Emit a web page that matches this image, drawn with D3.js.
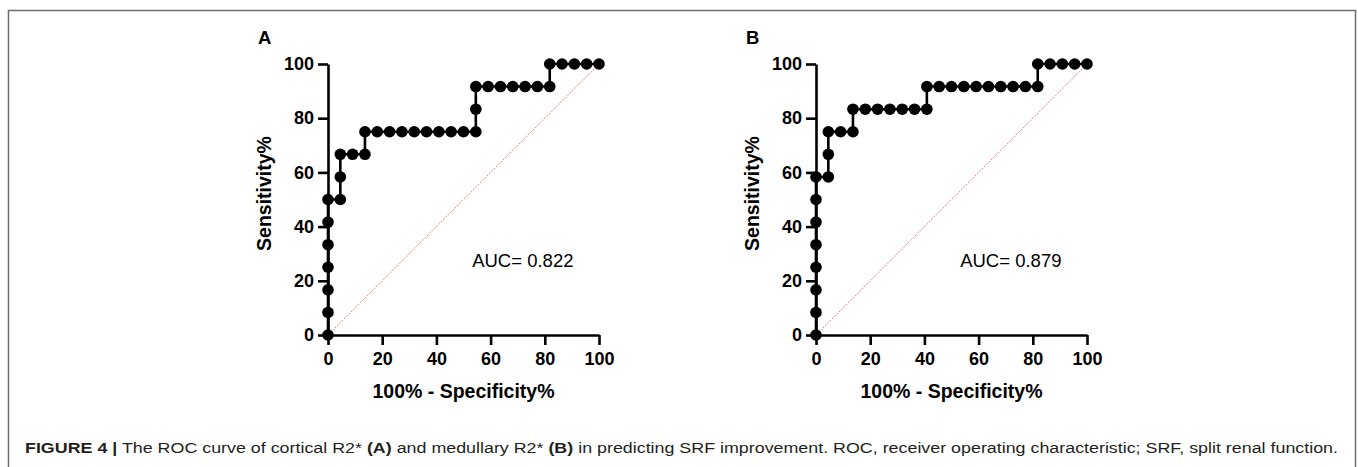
<!DOCTYPE html>
<html>
<head>
<meta charset="utf-8">
<script src="https://cdn.jsdelivr.net/npm/d3@7"></script>
<style>
  html, body { margin: 0; padding: 0; background: #fff; }
  svg { display: block; }
  text { font-family: Arial, "Liberation Sans", Helvetica, sans-serif; }
</style>
</head>
<body>
<svg id="chart" width="1358" height="467"></svg>
<script>
// ---- data ----
const tickValues = [0, 20, 40, 60, 80, 100];
const panelLabels = ["A", "B"];
const aucLabels = ["AUC= 0.822", "AUC= 0.879"];
const xAxisTitle = "100% - Specificity%";
const yAxisTitle = "Sensitivity%";

// Panel A: 100% - Specificity% and Sensitivity%
const fprA = [0,0,0,0,0,0,0,4.55,4.55,4.55,9.09,13.64,13.64,18.18,22.73,27.27,31.82,36.36,40.91,45.45,50,54.55,54.55,54.55,59.09,63.64,68.18,72.73,77.27,81.82,81.82,86.36,90.91,95.45,100];
const tprA = [0,8.33,16.67,25,33.33,41.67,50,50,58.33,66.67,66.67,66.67,75,75,75,75,75,75,75,75,75,75,83.33,91.67,91.67,91.67,91.67,91.67,91.67,91.67,100,100,100,100,100];

// Panel B
const fprB = [0,0,0,0,0,0,0,0,4.55,4.55,4.55,9.09,13.64,13.64,18.18,22.73,27.27,31.82,36.36,40.91,40.91,45.45,50,54.55,59.09,63.64,68.18,72.73,77.27,81.82,81.82,86.36,90.91,95.45,100];
const tprB = [0,8.33,16.67,25,33.33,41.67,50,58.33,58.33,66.67,75,75,75,83.33,83.33,83.33,83.33,83.33,83.33,83.33,91.67,91.67,91.67,91.67,91.67,91.67,91.67,91.67,91.67,91.67,100,100,100,100,100];

const diagonal = [0, 100];

const captionParts = [
  ["FIGURE 4 |", true],
  [" The ROC curve of cortical R2* ", false],
  ["(A)", true],
  [" and medullary R2* ", false],
  ["(B)", true],
  [" in predicting SRF improvement. ROC, receiver operating characteristic; SRF, split renal function.", false]
];

// ---- drawing ----
const svg = d3.select("#chart");

// frame
svg.append("path")
  .attr("d", "M8.5,467 L8.5,10.5 L1355.5,10.5 L1355.5,467")
  .attr("fill", "none")
  .attr("stroke", "#6b6b6b")
  .attr("stroke-width", 1.5);

const panels = [
  { fpr: fprA, tpr: tprA, x0: 328, label: panelLabels[0], auc: aucLabels[0] },
  { fpr: fprB, tpr: tprB, x0: 816, label: panelLabels[1], auc: aucLabels[1] }
];

const plotW = 271, yTop = 64, yBot = 335;

panels.forEach(p => {
  const x = d3.scaleLinear().domain([0, 100]).range([p.x0, p.x0 + plotW]);
  const y = d3.scaleLinear().domain([0, 100]).range([yBot, yTop]);
  const g = svg.append("g");

  // diagonal reference line
  g.append("line")
    .attr("x1", x(diagonal[0])).attr("y1", y(diagonal[0]))
    .attr("x2", x(diagonal[1])).attr("y2", y(diagonal[1]))
    .attr("stroke", "#ff5a5a")
    .attr("stroke-width", 1)
    .attr("stroke-dasharray", "1.2,1.3");

  // axes
  const xAxis = g.append("g")
    .attr("transform", `translate(0,${yBot})`)
    .call(d3.axisBottom(x).tickValues(tickValues).tickSize(10).tickSizeOuter(0).tickPadding(7).tickFormat(d3.format("d")));
  const yAxis = g.append("g")
    .attr("transform", `translate(${p.x0},0)`)
    .call(d3.axisLeft(y).tickValues(tickValues).tickSize(10).tickSizeOuter(0).tickPadding(4).tickFormat(d3.format("d")));
  [xAxis, yAxis].forEach(ax => {
    ax.select(".domain").attr("stroke", "#000").attr("stroke-width", 2.6);
    ax.selectAll(".tick line").attr("stroke", "#000").attr("stroke-width", 2.6);
    ax.selectAll(".tick text")
      .attr("fill", "#000")
      .style("font-family", "Arial, 'Liberation Sans', sans-serif")
      .style("font-size", "18px")
      .style("font-weight", "bold");
  });

  // ROC line
  const pts = p.fpr.map((f, i) => [f, p.tpr[i]]);
  g.append("path")
    .datum(pts)
    .attr("fill", "none")
    .attr("stroke", "#000")
    .attr("stroke-width", 2.6)
    .attr("d", d3.line().x(d => x(d[0])).y(d => y(d[1])));

  g.selectAll("circle.pt")
    .data(pts)
    .enter().append("circle")
    .attr("class", "pt")
    .attr("cx", d => x(d[0]))
    .attr("cy", d => y(d[1]))
    .attr("r", 5.8)
    .attr("fill", "#000");

  // titles
  g.append("text")
    .attr("x", x(50))
    .attr("y", 398)
    .attr("text-anchor", "middle")
    .style("font-size", "19.5px")
    .style("font-weight", "bold")
    .text(xAxisTitle);

  g.append("text")
    .attr("transform", `translate(${p.x0 - 57},${y(52.2)}) rotate(-90)`)
    .attr("text-anchor", "middle")
    .style("font-size", "19.5px")
    .style("font-weight", "bold")
    .text(yAxisTitle);

  g.append("text")
    .attr("x", p.x0 - 70)
    .attr("y", 44)
    .style("font-size", "18.5px")
    .style("font-weight", "bold")
    .text(p.label);

  g.append("text")
    .attr("x", x(53.2))
    .attr("y", 267)
    .style("font-size", "18.5px")
    .text(p.auc);
});

// caption
const cap = svg.append("text")
  .attr("x", 25)
  .attr("y", 453)
  .attr("fill", "#231f20")
  .attr("textLength", 1313)
  .attr("lengthAdjust", "spacingAndGlyphs")
  .style("font-family", "'Liberation Sans Narrow', Arial, sans-serif")
  .style("font-size", "15.5px");
cap.selectAll("tspan")
  .data(captionParts)
  .enter().append("tspan")
  .style("font-weight", d => d[1] ? "bold" : "normal")
  .text(d => d[0]);
</script>
</body>
</html>
